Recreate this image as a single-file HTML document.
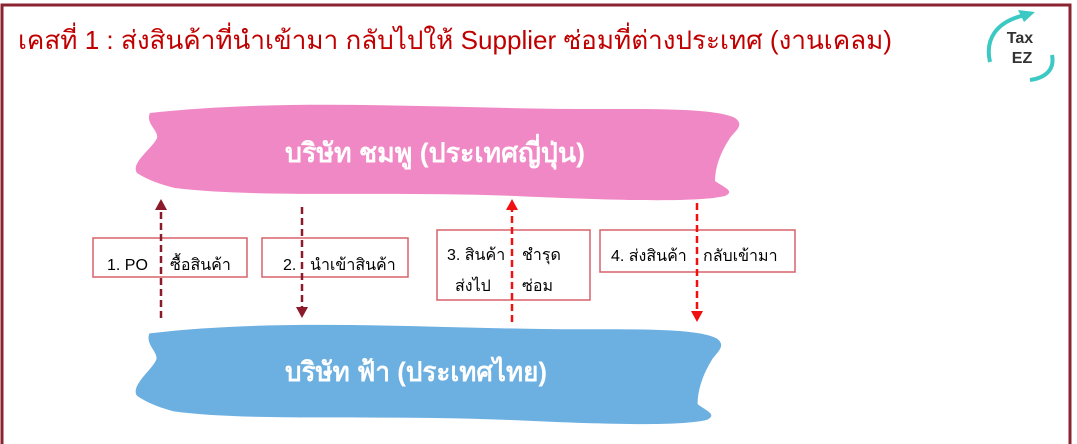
<!DOCTYPE html>
<html><head><meta charset="utf-8"><style>
body{margin:0;width:1077px;height:444px;overflow:hidden;background:#fff;font-family:"Liberation Sans","Noto Sans CJK SC",sans-serif;}
</style></head><body>
<svg width="1077" height="444" xmlns="http://www.w3.org/2000/svg" style="position:absolute;left:0;top:0">
<rect x="2" y="5" width="1068" height="445" fill="none" stroke="#8b2330" stroke-width="3"/>
<text x="18" y="49" font-size="26" fill="#c00000" textLength="874" lengthAdjust="spacingAndGlyphs" font-family="Liberation Sans, Noto Sans CJK SC, sans-serif">เคสที่ 1 :  ส่งสินค้าที่นำเข้ามา กลับไปให้ Supplier ซ่อมที่ต่างประเทศ (งานเคลม)</text>
<!-- logo -->
<path d="M990,62 C985,40 995,22 1025,15" fill="none" stroke="#3cc9c3" stroke-width="4"/>
<path d="M1018,10 L1035,12 L1024,22 Z" fill="#3cc9c3"/>
<path d="M1052,55 C1055,70 1045,78 1030,80" fill="none" stroke="#3cc9c3" stroke-width="4"/>
<text x="1020" y="43" font-size="16" font-weight="bold" text-anchor="middle" fill="#333">Tax</text>
<text x="1022" y="63" font-size="16" font-weight="bold" text-anchor="middle" fill="#333">EZ</text>
<!-- pink blob -->
<g transform="translate(135,103)">
<path d="M15,10 C150,-5 300,5 440,6 C520,6 580,5 600,15 C610,22 600,28 595,35 C585,50 580,65 580,78 C590,85 600,88 590,93 C560,100 470,97 380,93 C250,88 120,95 40,85 C20,80 10,75 2,70 C-5,60 18,45 22,35 C24,28 10,20 15,10 Z" fill="#f088c5"/>
</g>
<text x="435" y="162" font-size="27" font-weight="bold" fill="#fff" text-anchor="middle" textLength="300" lengthAdjust="spacingAndGlyphs">บริษัท ชมพู (ประเทศญี่ปุ่น)</text>
<!-- blue blob -->
<g transform="translate(135,323) scale(0.97,1.04)">
<path d="M15,10 C150,-5 300,5 440,6 C520,6 580,5 600,15 C610,22 600,28 595,35 C585,50 580,65 580,78 C590,85 600,88 590,93 C560,100 470,97 380,93 C250,88 120,95 40,85 C20,80 10,75 2,70 C-5,60 18,45 22,35 C24,28 10,20 15,10 Z" fill="#6cafe1"/>
</g>
<text x="416" y="381" font-size="27" font-weight="bold" fill="#fff" text-anchor="middle" textLength="262" lengthAdjust="spacingAndGlyphs">บริษัท ฟ้า (ประเทศไทย)</text>
<!-- boxes -->
<g fill="#fff" stroke="#d9606a" stroke-width="1.5">
<rect x="93" y="238" width="154" height="39"/>
<rect x="262" y="238" width="146" height="39"/>
<rect x="437" y="230" width="153" height="70"/>
<rect x="600" y="230" width="195" height="42"/>
</g>
<g font-size="16" fill="#000">
<text x="107" y="270">1. PO</text><text x="170" y="270">ซื้อสินค้า</text>
<text x="283" y="270">2.</text><text x="310" y="270">นำเข้าสินค้า</text>
<text x="447" y="260">3. สินค้า</text><text x="522" y="260">ชำรุด</text>
<text x="455" y="291">ส่งไป</text><text x="522" y="291">ซ่อม</text>
<text x="611" y="261">4.  ส่งสินค้า</text><text x="703" y="261">กลับเข้ามา</text>
</g>
<!-- arrows -->
<g stroke-width="2.5" stroke-dasharray="7,4" fill="none">
<line x1="161" y1="318" x2="161" y2="208" stroke="#8b1a2b"/>
<line x1="302" y1="207" x2="302" y2="308" stroke="#8b1a2b"/>
<line x1="512" y1="322" x2="512" y2="208" stroke="#f01010"/>
<line x1="697" y1="203" x2="697" y2="312" stroke="#f01010"/>
</g>
<path d="M155,210 L167,210 L161,199 Z" fill="#8b1a2b"/>
<path d="M296,307 L308,307 L302,318 Z" fill="#8b1a2b"/>
<path d="M506,210 L518,210 L512,199 Z" fill="#f01010"/>
<path d="M691,311 L703,311 L697,322 Z" fill="#f01010"/>
</svg>
</body></html>
